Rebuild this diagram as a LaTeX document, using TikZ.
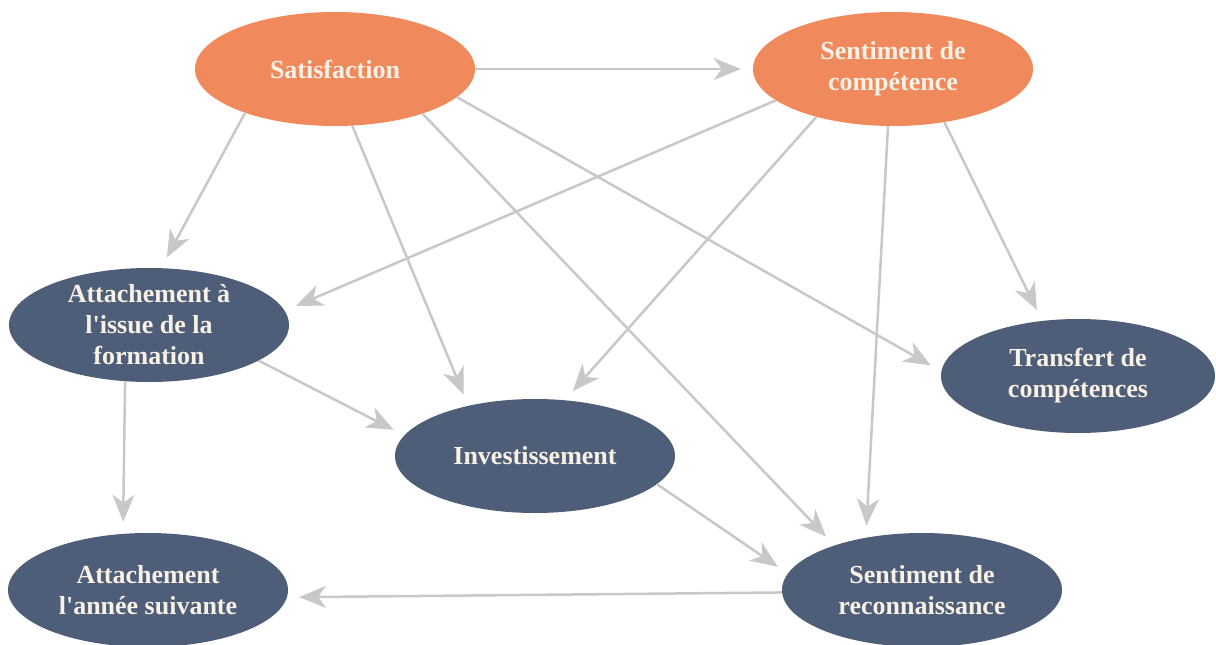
\documentclass[tikz,border=0pt]{standalone}
\usepackage{fontspec}
\setmainfont{Liberation Serif}
\usetikzlibrary{shapes.geometric,arrows.meta}
\definecolor{orangeN}{HTML}{F08A5C}
\definecolor{navyN}{HTML}{4E5D78}
\definecolor{txtC}{HTML}{F8F1E6}
\definecolor{edgeC}{HTML}{C8C8C8}
\tikzset{
  bubble/.style={ellipse, draw=none, inner sep=0pt, minimum width=280pt, minimum height=114pt},
  orangebubble/.style={bubble, fill=orangeN},
  navybubble/.style={bubble, fill=navyN},
  txt/.style={text=txtC, align=center, font=\fontsize{26}{31}\selectfont\bfseries},
  conn/.style={draw=edgeC, line width=2.5pt, shorten >=12pt,
    -{Stealth[length=27pt, width=22pt, inset=8pt]}}
}
\begin{document}
\begin{tikzpicture}[x=1pt,y=-1pt]
\useasboundingbox (0,0) rectangle (1216,645);
\node[orangebubble, label={[txt]center:Satisfaction}] (sat) at (335,69) {};
\node[orangebubble, label={[txt]center:{Sentiment de\\compétence}}] (sc) at (893,69) {};
\node[navybubble, label={[txt]center:{Attachement à\\l\textquotesingle issue de la\\formation}}] (ai) at (149,325) {};
\node[navybubble, label={[txt]center:Investissement}] (inv) at (535,456) {};
\node[navybubble, minimum width=274pt, label={[txt]center:{Transfert de\\compétences}}] (tr) at (1078,376) {};
\node[navybubble, label={[txt]center:{Attachement\\l\textquotesingle année suivante}}] (as) at (148,590) {};
\node[navybubble, label={[txt]center:{Sentiment de\\reconnaissance}}] (sr) at (922,590) {};

\draw[conn] (sat.0) -- (sc.180);
\draw[conn] (sat.-154) -- (ai.78.4);
\draw[conn] (sat.-73.7) -- (inv.143.8);
\draw[conn] (sat.-27.1) -- (sr.153.4);
\draw[conn] (sat.-13) -- (tr.178);
\draw[conn] (sc.-165.6) -- (ai.6.5);
\draw[conn] (sc.-148.8) -- (inv.62.2);
\draw[conn] (sc.-95) -- (sr.137.6);
\draw[conn] (sc.-46.6) -- (tr.123.4);
\draw[conn] (ai.-18.1) -- (inv.171.6);
\draw[conn] (ai.-113.7) -- (as.114.4);
\draw[conn] (inv.-13.3) -- (sr.173.3);
\draw[conn] (sr.181) -- (as.-3.3);
\end{tikzpicture}
\end{document}
